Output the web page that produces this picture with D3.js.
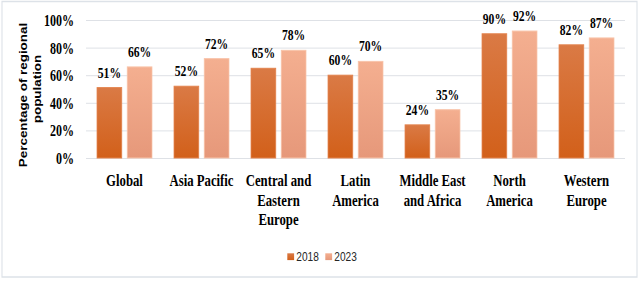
<!DOCTYPE html>
<html>
<head>
<meta charset="utf-8">
<script src="https://cdn.jsdelivr.net/npm/d3@7"></script>
<style>
    body { margin: 0; background: #fff; }
    .serif { font-family: "Liberation Serif", "Times New Roman", serif; font-weight: bold; fill: #000; }
</style>
</head>
<body>
<div id="chart"></div>
<script>
var categories = ["Global", "Asia Pacific", "Central and Eastern Europe", "Latin America",
    "Middle East and Africa", "North America", "Western Europe"];
var categoryLines = [["Global"], ["Asia Pacific"], ["Central and", "Eastern", "Europe"], ["Latin", "America"],
    ["Middle East", "and Africa"], ["North", "America"], ["Western", "Europe"]];
var series = ["2018", "2023"];
var values2018 = [51, 52, 65, 60, 24, 90, 82];
var values2023 = [66, 72, 78, 70, 35, 92, 87];
var yTicks = [0, 20, 40, 60, 80, 100];

var w = 640, h = 283;
// the original picture is squeezed sideways, so draw wide and let the viewBox squeeze it
var k = 0.75;
var vw = w / k;
function sx(px) { return px / k; }

var data = categories.map(function(c, i) {
    return {cat: c, lines: categoryLines[i], vals: [values2018[i], values2023[i]]};
});

var svg = d3.select("#chart").append("svg")
    .attr("width", w)
    .attr("height", h)
    .attr("viewBox", [0, 0, vw, h].join(" "))
    .attr("preserveAspectRatio", "none");

// frame
svg.append("rect")
    .attr("x", sx(2)).attr("y", 1.5)
    .attr("width", sx(635)).attr("height", 275.5)
    .attr("fill", "none")
    .attr("stroke", "#dde2e8")
    .attr("stroke-width", 1.5);

var defs = svg.append("defs");
var grads = [["#da7a45", "#d2601a", "#e3834d"], ["#f4af90", "#e6987a", "#f8c4aa"]];
grads.forEach(function(g, i) {
    var lg = defs.append("linearGradient").attr("id", "g" + i)
        .attr("x1", 0).attr("y1", 0).attr("x2", 0).attr("y2", 1);
    lg.append("stop").attr("offset", "0%").attr("stop-color", g[0]);
    lg.append("stop").attr("offset", "100%").attr("stop-color", g[1]);
});

var x0 = d3.scaleBand()
    .domain(categories)
    .range([sx(86), sx(625)]);

var x1 = d3.scaleBand()
    .domain(series)
    .range([sx(11), sx(66)])
    .paddingInner(0.18);

var y = d3.scaleLinear()
    .domain([0, 100])
    .range([158, 20]);

// gridlines
var grid = svg.append("g")
    .attr("transform", "translate(" + [sx(86), 0] + ")")
    .call(d3.axisLeft(y).tickValues(yTicks).tickSize(-(sx(625) - sx(86))).tickFormat(""));
grid.select(".domain").remove();
grid.selectAll("line").attr("stroke", "#d9dde2").attr("stroke-width", 1);

// y axis labels
var yAxis = svg.append("g")
    .attr("transform", "translate(" + [sx(86), 0] + ")")
    .call(d3.axisLeft(y).tickValues(yTicks).tickSize(0).tickPadding(sx(12))
        .tickFormat(function(d) { return d + "%"; }));
yAxis.select(".domain").remove();
yAxis.selectAll("text")
    .attr("class", "serif")
    .style("font-size", "16px")
    .attr("dy", "0.34em");

// bars
var groups = svg.selectAll(".grp").data(data)
    .enter().append("g")
    .attr("class", "grp")
    .attr("transform", function(d) { return "translate(" + [x0(d.cat), 0] + ")"; });

groups.selectAll("rect").data(function(d) { return d.vals; })
    .enter().append("rect")
    .attr("x", function(d, i) { return x1(series[i]); })
    .attr("y", function(d) { return y(d); })
    .attr("width", x1.bandwidth())
    .attr("height", function(d) { return y(0) - y(d); })
    .attr("fill", function(d, i) { return "url(#g" + i + ")"; })
    .attr("stroke", function(d, i) { return grads[i][2]; })
    .attr("stroke-width", 1);

groups.selectAll(".val").data(function(d) { return d.vals; })
    .enter().append("text")
    .attr("class", "serif val")
    .attr("x", function(d, i) { return x1(series[i]) + x1.bandwidth() / 2; })
    .attr("y", function(d) { return y(d) - 10; })
    .attr("text-anchor", "middle")
    .style("font-size", "15.5px")
    .text(function(d) { return d + "%"; });

// category labels
var catText = svg.selectAll(".cat").data(data)
    .enter().append("text")
    .attr("class", "serif cat")
    .attr("text-anchor", "middle")
    .style("font-size", "17px");
catText.selectAll("tspan").data(function(d) { return d.lines; })
    .enter().append("tspan")
    .attr("x", function() { var d = d3.select(this.parentNode).datum(); return x0(d.cat) + x0.bandwidth() / 2; })
    .attr("y", function(d, i) { return 186.5 + i * 19.5; })
    .text(function(d) { return d; });

// y title, two lines
var titleLines = [["Percentage of regional", 26.5, 95], ["population", 41, 89]];
svg.selectAll(".ytitle").data(titleLines)
    .enter().append("text")
    .attr("class", "ytitle")
    .attr("transform", function(d) { return "translate(" + [sx(d[1]), d[2]] + ") rotate(-90)"; })
    .attr("text-anchor", "middle")
    .style("font-family", "'Liberation Sans', Arial, sans-serif")
    .style("font-weight", "bold")
    .style("font-size", "13.4px")
    .attr("fill", "#000")
    .text(function(d) { return d[0]; });

// legend
var legend = svg.selectAll(".leg").data(series)
    .enter().append("g")
    .attr("class", "leg")
    .attr("transform", function(d, i) { return "translate(" + [sx(287.3 + i * 38), 0] + ")"; });
legend.append("rect")
    .attr("x", 0).attr("y", 253.3)
    .attr("width", sx(6.8)).attr("height", 6.8)
    .attr("fill", function(d, i) { return "url(#g" + i + ")"; });
legend.append("text")
    .attr("x", sx(9)).attr("y", 260.7)
    .style("font-family", "'Liberation Sans', Arial, sans-serif")
    .style("font-size", "13.5px")
    .attr("fill", "#262626")
    .text(function(d) { return d; });
</script>
</body>
</html>
